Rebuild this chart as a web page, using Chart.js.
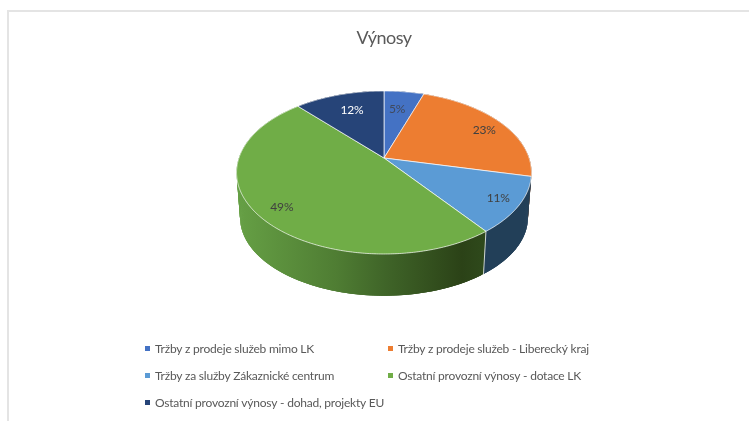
<!DOCTYPE html>
<html>
<head>
<meta charset="utf-8">
<title>Výnosy</title>
<script src="https://cdn.jsdelivr.net/npm/chart.js@4/dist/chart.umd.min.js"></script>
<style>
    html, body { margin: 0; padding: 0; background: #fff; overflow: hidden; }
    #wrap { position: relative; width: 749px; height: 421px; }
    #frame { position: absolute; left: 7px; top: 10px; right: -5px; bottom: -5px; border: 2px solid #e4e4e4; }
    canvas { position: absolute; left: 0; top: 0; filter: blur(0.4px); }
</style>
</head>
<body>
<div id="wrap">
    <div id="frame"></div>
    <canvas id="revenueChart" width="749" height="421"></canvas>
</div>
<script>
const categories = [
    'Tržby z prodeje služeb mimo LK',
    'Tržby z prodeje služeb - Liberecký kraj',
    'Tržby za služby Zákaznické centrum',
    'Ostatní provozní výnosy - dotace LK',
    'Ostatní provozní výnosy - dohad, projekty EU'
];
const shares = [5.2, 23.4, 11.1, 48.6, 11.7];
const chartTitle = 'Výnosy';

const sliceColors = ['#4472C4', '#ED7D31', '#5B9BD5', '#70AD47', '#264478'];
const labelColors = ['#404a5e', '#404040', '#404040', '#404040', '#ffffff'];
const labelRadius = [0.72, 0.83, 0.86, 0.85, 0.73];
const labelNudge = [[-2, 1], [2, 2], [0, 0], [3, 2], [2, 0]];
const sideStops = [
    [[0, '#2a4676'], [1, '#2a4676']],
    [[0, '#8f4b1d'], [1, '#8f4b1d']],
    [[0, '#213f57'], [1, '#223f58']],
    [[0, '#66a045'], [0.4, '#4f7d33'], [0.6, '#3f6428'], [0.9, '#2b4217'], [1, '#2f4a1c']],
    [[0, '#17294a'], [1, '#17294a']]
];

const font = 'Lato, Carlito, sans-serif';

// Fake perspective: the flat pie circle is mapped onto the tilted disc
const tilt = 0.178;
const stretchX = 1.451;
const stretchY = 0.789;
const apexDrop = 14;     // top ellipse centre sits this far below the apex
const depthY = 45;       // bottom ellipse centre below the top one
const bottomX = 0.976;
const bottomY = 0.96;

function project(arc, angle, r) {
    const u = Math.cos(angle) * r;
    const v = Math.sin(angle) * r;
    const w = 1 - tilt * v;
    return {
        x: arc.x + arc.outerRadius * stretchX * u / w,
        y: arc.y + arc.outerRadius * stretchY * v / w
    };
}

function bottomPoint(arc, angle) {
    const p = project(arc, angle, 1);
    const cy = arc.y + apexDrop;
    return {
        x: arc.x + (p.x - arc.x) * bottomX,
        y: cy + depthY + (p.y - cy) * bottomY
    };
}

function arcPoints(arc, fn) {
    const steps = Math.max(4, Math.ceil((arc.endAngle - arc.startAngle) / 0.01));
    const pts = [];
    for (let i = 0; i <= steps; i++) {
        pts.push(fn(arc.startAngle + (arc.endAngle - arc.startAngle) * i / steps));
    }
    return pts;
}

const pie3d = {
    id: 'pie3d',
    beforeDraw(chart) {
        chart.ctx.letterSpacing = '-0.5px';
    },
    beforeDatasetDraw(chart, args) {
        const ctx = chart.ctx;
        const arcs = args.meta.data;
        ctx.save();

        // walls first, the top faces then cover whatever lies behind
        arcs.forEach((arc, i) => {
            const top = arcPoints(arc, a => project(arc, a, 1));
            const bottom = arcPoints(arc, a => bottomPoint(arc, a));
            const grad = ctx.createLinearGradient(236, 0, 487, 0);
            sideStops[i].forEach(s => grad.addColorStop(s[0], s[1]));
            ctx.fillStyle = grad;
            // small overlapping quads, a single path would cross itself at the silhouette
            for (let k = 0; k < top.length - 1; k++) {
                const n = Math.min(k + 3, top.length - 1);
                ctx.beginPath();
                ctx.moveTo(top[k].x, top[k].y);
                ctx.lineTo(top[n].x, top[n].y);
                ctx.lineTo(bottom[n].x, bottom[n].y);
                ctx.lineTo(bottom[k].x, bottom[k].y);
                ctx.closePath();
                ctx.fill();
            }
        });

        // edge between the blue and the green wall
        const edge = arcs[2].endAngle;
        const e1 = project(arcs[2], edge, 1);
        const e2 = bottomPoint(arcs[2], edge);
        ctx.beginPath();
        ctx.moveTo(e1.x, e1.y);
        ctx.lineTo(e2.x, e2.y);
        ctx.strokeStyle = 'rgba(255,255,255,0.75)';
        ctx.lineWidth = 1;
        ctx.stroke();

        arcs.forEach((arc, i) => {
            ctx.beginPath();
            ctx.moveTo(arc.x, arc.y);
            arcPoints(arc, a => project(arc, a, 1)).forEach(p => ctx.lineTo(p.x, p.y));
            ctx.closePath();
            ctx.fillStyle = sliceColors[i];
            ctx.fill();
            ctx.strokeStyle = 'rgba(255,255,255,0.85)';
            ctx.lineWidth = 0.8;
            ctx.stroke();
        });

        ctx.font = '12px ' + font;
        ctx.letterSpacing = '-0.2px';
        ctx.textAlign = 'center';
        ctx.textBaseline = 'middle';
        arcs.forEach((arc, i) => {
            const p = project(arc, (arc.startAngle + arc.endAngle) / 2, labelRadius[i]);
            ctx.fillStyle = labelColors[i];
            ctx.fillText(Math.round(shares[i]) + '%', p.x + labelNudge[i][0], p.y + labelNudge[i][1]);
        });

        ctx.restore();
        return false;
    }
};

// Two column legend under the pie
const legendColumns = [145, 388];
const legendRows = [349, 376, 403];
const legend2col = {
    id: 'legend2col',
    afterDraw(chart) {
        const ctx = chart.ctx;
        ctx.save();
        ctx.font = '12px ' + font;
        ctx.letterSpacing = '-0.22px';
        ctx.textBaseline = 'middle';
        ctx.textAlign = 'left';
        categories.forEach((label, i) => {
            const x = legendColumns[i % 2];
            const y = legendRows[Math.floor(i / 2)];
            ctx.fillStyle = sliceColors[i];
            ctx.fillRect(x, y - 3, 5, 5);
            ctx.fillStyle = '#595959';
            ctx.fillText(label, x + 10, y);
        });
        ctx.restore();
    }
};

new Chart(document.getElementById('revenueChart'), {
    type: 'pie',
    data: {
        labels: categories,
        datasets: [{
            data: shares,
            backgroundColor: sliceColors,
            borderWidth: 0
        }]
    },
    options: {
        responsive: false,
        animation: false,
        layout: { padding: { left: 19, bottom: 163 } },
        plugins: {
            legend: { display: false },
            tooltip: { enabled: false },
            title: {
                display: true,
                text: chartTitle,
                color: '#595959',
                font: { family: font, size: 18, weight: 'normal', lineHeight: 1.2 },
                padding: { top: 27, bottom: 9.4 }
            }
        }
    },
    plugins: [pie3d, legend2col]
});
</script>
</body>
</html>
